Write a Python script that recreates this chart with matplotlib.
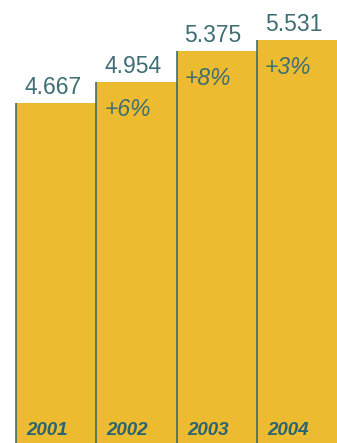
import numpy as np
import matplotlib.pyplot as plt

# Data
years = ["2001", "2002", "2003", "2004"]
values = [4.667, 4.954, 5.375, 5.531]
growth = [None, "+6%", "+8%", "+3%"]

gold = "#EDBB30"
teal = "#2B6470"
text_teal = "#3D6E74"
fonts = ["Liberation Sans Narrow", "Liberation Sans"]

fig = plt.figure(figsize=(3.37, 4.43), dpi=100)
ax = fig.add_axes([0, 0, 1, 1])

x = np.arange(len(years))
ax.bar(x, values, width=1.0, align="edge", color=gold, linewidth=0)
# thin dark rule on the left side of every bar
ax.vlines(x, 0, values, color=teal, linewidth=1.1)

for i, v in enumerate(values):
    ax.text(x[i] + 0.1, v + 0.125, f"{v:.3f}", color=text_teal,
            fontsize=16.5, family=fonts, stretch="condensed",
            ha="left", va="baseline")
    if growth[i]:
        ax.text(x[i] + 0.1, v - 0.38, growth[i], color=text_teal,
                fontsize=16.5, family=fonts, stretch="condensed",
                style="italic", ha="left", va="center")
    ax.text(x[i] + 0.13, 0.11, years[i], color=teal, fontsize=13.5,
            family=fonts, stretch="condensed", style="italic",
            weight="bold", ha="left", va="baseline")

ax.set_xlim(-16 / 80.25, 4)
ax.set_ylim(0, 6.077)
ax.axis("off")

plt.savefig("out.png", dpi=100)
